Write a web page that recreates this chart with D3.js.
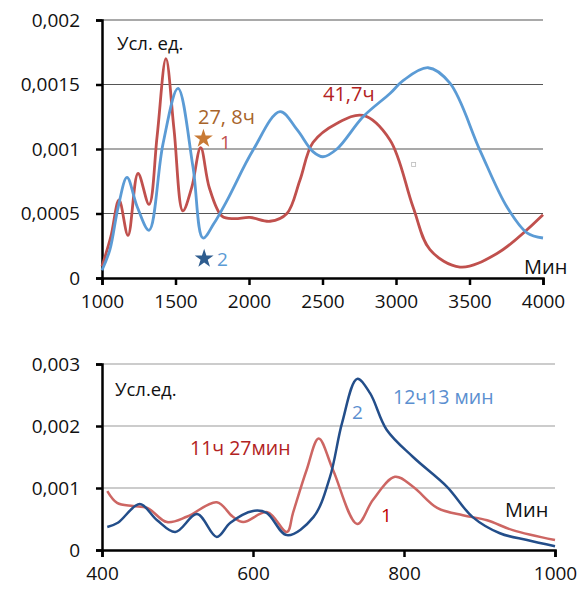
<!DOCTYPE html>
<html><head><meta charset="utf-8">
<script src="https://cdn.jsdelivr.net/npm/d3@7/dist/d3.min.js"></script>
<style>
body{margin:0;background:#fff;}
svg text{font-family:"Open Sans",sans-serif;}
</style></head>
<body><svg id="c" width="587" height="591"></svg>
<script>
// ---- Top chart data (x: Мин, y: Усл. ед.) ----
const topXTicks = [1000,1500,2000,2500,3000,3500,4000];
const topYTicks = [0,0.0005,0.001,0.0015,0.002];
const topYLabels = ["0","0,0005","0,001","0,0015","0,002"];
const topRedX = [1000,1060,1116,1177,1245,1320,1375,1435,1490,1550,1610,1671,1730,1816,1900,2005,2143,2258,2347,2435,2600,2776,2959,3116,3231,3435,3687,4000];
const topRedY = [0.00009,0.00032,0.000605,0.00033,0.00081,0.00057,0.0011,0.0017,0.00115,0.00052,0.0007,0.00101,0.0007,0.00048,0.00046,0.00047,0.00044,0.0005,0.00076,0.00105,0.0012,0.00126,0.00107,0.00055,0.00022,0.000085,0.00019,0.00049];
const topBlueX = [1000,1054,1110,1170,1240,1320,1415,1517,1619,1687,1760,1850,2027,2211,2327,2435,2503,2598,2776,2959,3048,3218,3367,3571,3755,3891,4000];
const topBlueY = [0.00006,0.00022,0.00055,0.00078,0.00055,0.00037,0.00104,0.00147,0.00086,0.00031,0.00042,0.0006,0.00099,0.00129,0.00115,0.00098,0.00094,0.001,0.00125,0.00143,0.00153,0.00163,0.00151,0.00099,0.00055,0.00035,0.00031];

// ---- Bottom chart data ----
const botXTicks = [400,600,800,1000];
const botYTicks = [0,0.001,0.002,0.003];
const botYLabels = ["0","0,001","0,002","0,003"];
const botNavyX = [407,421,450,473,497,526,552,570,600,618,645,680,702,718,738,755,777,812,857,891,927,963,1000];
const botNavyY = [0.00037,0.00044,0.00074,0.00048,0.00029,0.00058,0.00021,0.00044,0.00063,0.0006,0.00024,0.00053,0.00118,0.00205,0.00276,0.00253,0.00194,0.0015,0.00102,0.00053,0.00027,0.00016,0.00006];
const botRedX = [407,420,441,460,486,513,552,573,587,619,645,653,671,687,706,738,759,788,812,844,878,910,944,1000];
const botRedY = [0.00095,0.00076,0.00071,0.00068,0.00045,0.00054,0.00077,0.00054,0.00045,0.00061,0.00029,0.0006,0.00129,0.0018,0.00129,0.00042,0.00081,0.00118,0.00102,0.00068,0.00056,0.00048,0.00032,0.00016];

const svg = d3.select("#c");

function drawPanel(o){
  const g = svg.append("g");
  const x = d3.scaleLinear().domain(o.xd).range(o.xr);
  const y = d3.scaleLinear().domain(o.yd).range(o.yr);
  // grid
  g.selectAll(".grid").data(o.yTicks.filter(v=>v>0)).join("line")
    .attr("x1",o.xr[0]).attr("x2",o.xr[1])
    .attr("y1",d=>y(d)).attr("y2",d=>y(d))
    .attr("stroke",o.gridColor).attr("stroke-width",1.2);
  // y axis
  const ya = g.append("g").attr("transform",`translate(${o.xr[0]},0)`)
    .call(d3.axisLeft(y).tickValues(o.yTicks).tickFormat((d,i)=>o.yLabels[i]).tickSize(6).tickPadding(16));
  ya.select(".domain").attr("stroke","#000").attr("stroke-width",2.5);
  ya.selectAll(".tick line").attr("stroke","#000").attr("stroke-width",2.5);
  ya.selectAll(".tick text").attr("font-size",19).attr("fill","#111").attr("font-family","Open Sans");
  // x axis
  const xa = g.append("g").attr("transform",`translate(0,${o.yr[0]})`)
    .call(d3.axisBottom(x).tickValues(o.xTicks).tickFormat(d3.format("d")).tickSize(7).tickPadding(10));
  xa.select(".domain").attr("stroke","#000").attr("stroke-width",2.5);
  xa.selectAll(".tick line").attr("stroke","#000").attr("stroke-width",2.5);
  xa.selectAll(".tick text").attr("font-size",19).attr("fill","#111").attr("font-family","Open Sans");
  // series
  const line = d3.line().x(d=>x(d[0])).y(d=>y(d[1])).curve(d3.curveCatmullRom.alpha(0.5));
  o.series.forEach(s=>{
    g.append("path").datum(d3.zip(s.x,s.y)).attr("d",line)
      .attr("fill","none").attr("stroke",s.color).attr("stroke-width",s.w).attr("stroke-linejoin","round");
  });
  return {x,y,g};
}

const T = drawPanel({xd:[1000,4000],xr:[102,543],yd:[0,0.002],yr:[278,20],
  xTicks:topXTicks,yTicks:topYTicks,yLabels:topYLabels,gridColor:"#555",
  series:[{x:topRedX,y:topRedY,color:"#C0504D",w:2.8},{x:topBlueX,y:topBlueY,color:"#5B9BD5",w:2.8}]});

const B = drawPanel({xd:[400,1000],xr:[102,555],yd:[0,0.003],yr:[550,364],
  xTicks:botXTicks,yTicks:botYTicks,yLabels:botYLabels,gridColor:"#999",
  series:[{x:botRedX,y:botRedY,color:"#CD6663",w:2.5},{x:botNavyX,y:botNavyY,color:"#234E8A",w:2.5}]});

// ---- annotations top ----
function txt(x,y,s,fs,fill,anchor){
  svg.append("text").attr("x",x).attr("y",y).attr("font-size",fs).attr("fill",fill)
    .attr("text-anchor",anchor||"start").text(s);
}
txt(117,50,"Усл. ед.",18.5,"#111");
txt(198,124,"27, 8ч",20,"#A8642A");
txt(220,149,"1",19,"#C0504D");
txt(217,266,"2",19,"#5B9BD5");
txt(323,101,"41,7ч",20,"#B22222");
txt(524,274,"Мин",20,"#111");
const star = d3.symbol().type(d3.symbolStar).size(110);
svg.append("path").attr("d",star).attr("transform",`translate(${T.x(1690)},${T.y(0.00108)})`).attr("fill","#C87A35");
svg.append("path").attr("d",star).attr("transform",`translate(${T.x(1695)},${T.y(0.00015)})`).attr("fill","#2F5D8F");
svg.append("rect").attr("x",T.x(3120)-2).attr("y",T.y(0.00088)-2).attr("width",4).attr("height",4)
  .attr("fill","none").attr("stroke","#bbb").attr("stroke-width",0.8);

// ---- annotations bottom ----
txt(115,396,"Усл.ед.",18.5,"#111");
txt(190,455,"11ч 27мин",19.5,"#B22222");
txt(393,404,"12ч13 мин",19.5,"#5B8FD0");
txt(352,419,"2",19,"#5B8FD0");
txt(381,522,"1",19,"#C00000");
txt(505,517,"Мин",20,"#111");
</script></body></html>
